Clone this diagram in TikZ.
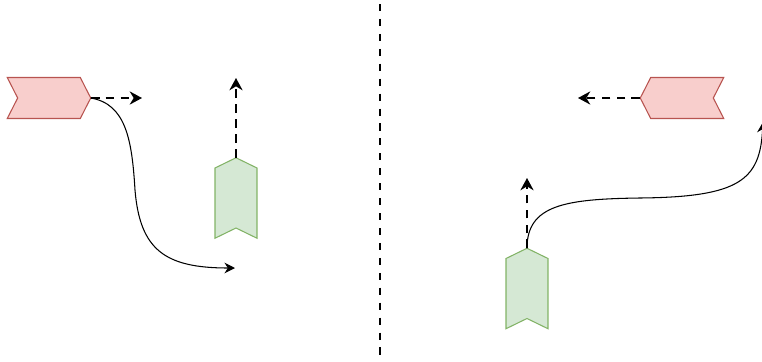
\documentclass[tikz,border=0pt]{standalone}
\usepackage{amsmath}
\usetikzlibrary{positioning,arrows.meta,shapes.symbols}

\definecolor{redfill}{HTML}{F8CECC}
\definecolor{redline}{HTML}{B85450}
\definecolor{greenfill}{HTML}{D5E8D4}
\definecolor{greenline}{HTML}{82B366}

\tikzset{
  redcar/.style={signal, draw=redline, fill=redfill, line width=0.6pt,
    minimum width=1.67cm, minimum height=0.82cm, signal pointer angle=126,
    inner sep=0pt, outer sep=0pt},
  greencar/.style={signal, draw=greenline, fill=greenfill, line width=0.6pt,
    signal to=north, signal from=south,
    minimum width=0.84cm, minimum height=1.2cm, signal pointer angle=128,
    inner sep=0pt, outer sep=0pt},
  intent/.style={line width=1.2pt, dash pattern=on 5pt off 3.5pt,
    -{Stealth[length=7pt,width=7.5pt]}},
  route/.style={line width=0.6pt, -{Stealth[length=6pt,width=6pt]}},
}

\begin{document}
\begin{tikzpicture}[x=0.02cm, y=-0.02cm]
\useasboundingbox (0,0) rectangle (762,362);

% left case
\node[redcar, signal to=east, signal from=west] (ra) at (49,98) {};
\node[greencar] (ga) at (236,198) {};
\coordinate (ra goal) at (142,98);
\coordinate (ga goal) at (236,78);
\coordinate (ra end) at (235,268);
\draw[intent] (ra.east) -- (ra goal);
\draw[intent] (ga.north) -- (ga goal);
\draw[route] (ra.east) .. controls (126,104) and (132,140) .. (135,190)
  .. controls (140,250) and (165,268) .. (ra end);

% separator
\coordinate (top) at (380,4);
\coordinate (bottom) at (380,362);
\draw[line width=1.2pt, dash pattern=on 4pt off 4.5pt] (top) -- (bottom);

% right case
\node[redcar, signal to=west, signal from=east] (rb) at (682,98) {};
\node[greencar] (gb) at (527,288.5) {};
\coordinate (rb goal) at (578,98);
\coordinate (gb goal) at (527,178);
\coordinate (gb end) at (763,122);
\draw[intent] (rb.west) -- (rb goal);
\draw[intent] (gb.north) -- (gb goal);
\draw[route] (gb.north) .. controls (527,205) and (565,199) .. (640,198)
  .. controls (740,197) and (760,180) .. (gb end);
\end{tikzpicture}
\end{document}
